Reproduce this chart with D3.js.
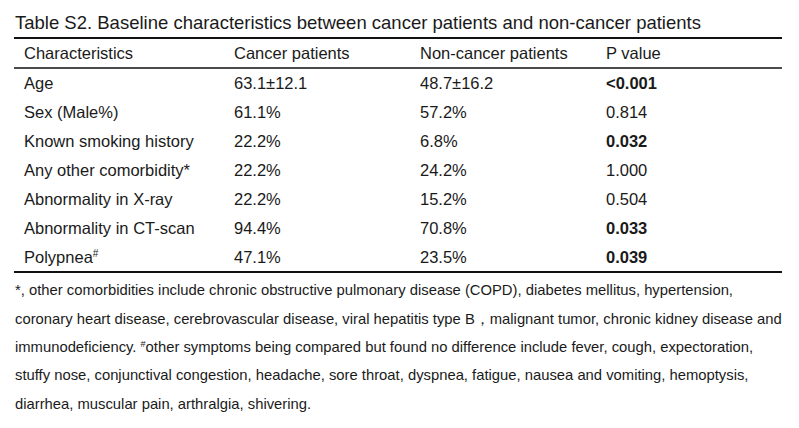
<!DOCTYPE html>
<html>
<head>
<meta charset="utf-8">
<script src="https://cdn.jsdelivr.net/npm/d3@7"></script>
<style>
  body { margin: 0; background: #fff; }
  svg { display: block; font-family: "Liberation Sans", Arial, sans-serif; }
</style>
</head>
<body>
<div id="table"></div>
<script>
var svgWidth = 799;
var svgHeight = 428;

var title = "Table S2. Baseline characteristics between cancer patients and non-cancer patients";
var headers = ["Characteristics", "Cancer patients", "Non-cancer patients", "P value"];
var characteristics = ["Age", "Sex (Male%)", "Known smoking history", "Any other comorbidity*",
  "Abnormality in X-ray", "Abnormality in CT-scan", "Polypnea"];
var cancer = ["63.1±12.1", "61.1%", "22.2%", "22.2%", "22.2%", "94.4%", "47.1%"];
var nonCancer = ["48.7±16.2", "57.2%", "6.8%", "24.2%", "15.2%", "70.8%", "23.5%"];
var pValues = ["<0.001", "0.814", "0.032", "1.000", "0.504", "0.033", "0.039"];
var significant = [true, false, true, false, false, true, true];
var footnotes = [
  [["*, other comorbidities include chronic obstructive pulmonary disease (COPD), diabetes mellitus, hypertension,"]],
  [["coronary heart disease, cerebrovascular disease, viral hepatitis type B，malignant tumor, chronic kidney disease and"]],
  [["immunodeficiency. "], ["#", true], ["other symptoms being compared but found no difference include fever, cough, expectoration,"]],
  [["stuffy nose, conjunctival congestion, headache, sore throat, dyspnea, fatigue, nausea and vomiting, hemoptysis,"]],
  [["diarrhea, muscular pain, arthralgia, shivering."]]
];

var svg = d3.select("#table")
  .append("svg")
  .attr("width", svgWidth)
  .attr("height", svgHeight);

svg.append("rect")
  .attr("width", svgWidth)
  .attr("height", svgHeight)
  .attr("fill", "#fff");

var textColor = "#1a1a1a";

// title
svg.append("text")
  .attr("x", 15)
  .attr("y", 29)
  .attr("font-size", "18.5px")
  .attr("fill", textColor)
  .text(title);

// rules
var left = 14, right = 782;
var topRule = 38, headRule = 68, bottomRule = 272;
[[topRule, 2], [headRule, 1.6], [bottomRule, 2]].forEach(function(r) {
  svg.append("line")
    .attr("x1", left).attr("x2", right)
    .attr("y1", r[0]).attr("y2", r[0])
    .attr("stroke", "#111")
    .attr("stroke-width", r[1]);
});

var colX = d3.scaleOrdinal()
  .domain(d3.range(4))
  .range([24, 234, 420, 606]);

var yRow = d3.scaleBand()
  .domain(characteristics)
  .range([headRule, bottomRule]);

var fs = 16.5;
var baseShift = 6;

// header
svg.append("g").selectAll("text")
  .data(headers)
  .enter()
  .append("text")
  .attr("x", function(d, i) { return colX(i); })
  .attr("y", (topRule + headRule) / 2 + baseShift)
  .attr("font-size", fs + "px")
  .attr("fill", textColor)
  .text(function(d) { return d; });

// body rows
var rows = characteristics.map(function(c, i) {
  return [c, cancer[i], nonCancer[i], pValues[i], significant[i]];
});

var rowGroups = svg.append("g").selectAll("g")
  .data(rows)
  .enter()
  .append("g")
  .attr("transform", function(d) { return "translate(0," + (yRow(d[0]) + yRow.bandwidth() / 2 + baseShift) + ")"; });

rowGroups.each(function(d) {
  var g = d3.select(this);
  for (var i = 0; i < 4; i++) {
    var t = g.append("text")
      .attr("x", colX(i))
      .attr("font-size", fs + "px")
      .attr("fill", textColor)
      .attr("font-weight", (i === 3 && d[4]) ? "bold" : "normal")
      .text(d[i]);
    if (i === 0 && d[0] === "Polypnea") {
      t.append("tspan")
        .attr("dy", -6)
        .attr("font-size", "10px")
        .text("#");
    }
  }
});

// footnotes
var noteY = d3.scaleBand()
  .domain(d3.range(footnotes.length))
  .range([276, 418]);

svg.append("g").selectAll("text")
  .data(footnotes)
  .enter()
  .append("text")
  .attr("x", 15)
  .attr("y", function(d, i) { return noteY(i) + noteY.bandwidth() / 2 + 5; })
  .attr("font-size", "14.8px")
  .attr("fill", textColor)
  .each(function(parts) {
    var t = d3.select(this);
    var raised = false;
    parts.forEach(function(p) {
      var s = t.append("tspan").text(p[0]);
      if (p[1]) {
        s.attr("font-size", "9px").attr("dy", -5);
        raised = true;
      } else if (raised) {
        s.attr("dy", 5);
        raised = false;
      }
    });
  });
</script>
</body>
</html>
